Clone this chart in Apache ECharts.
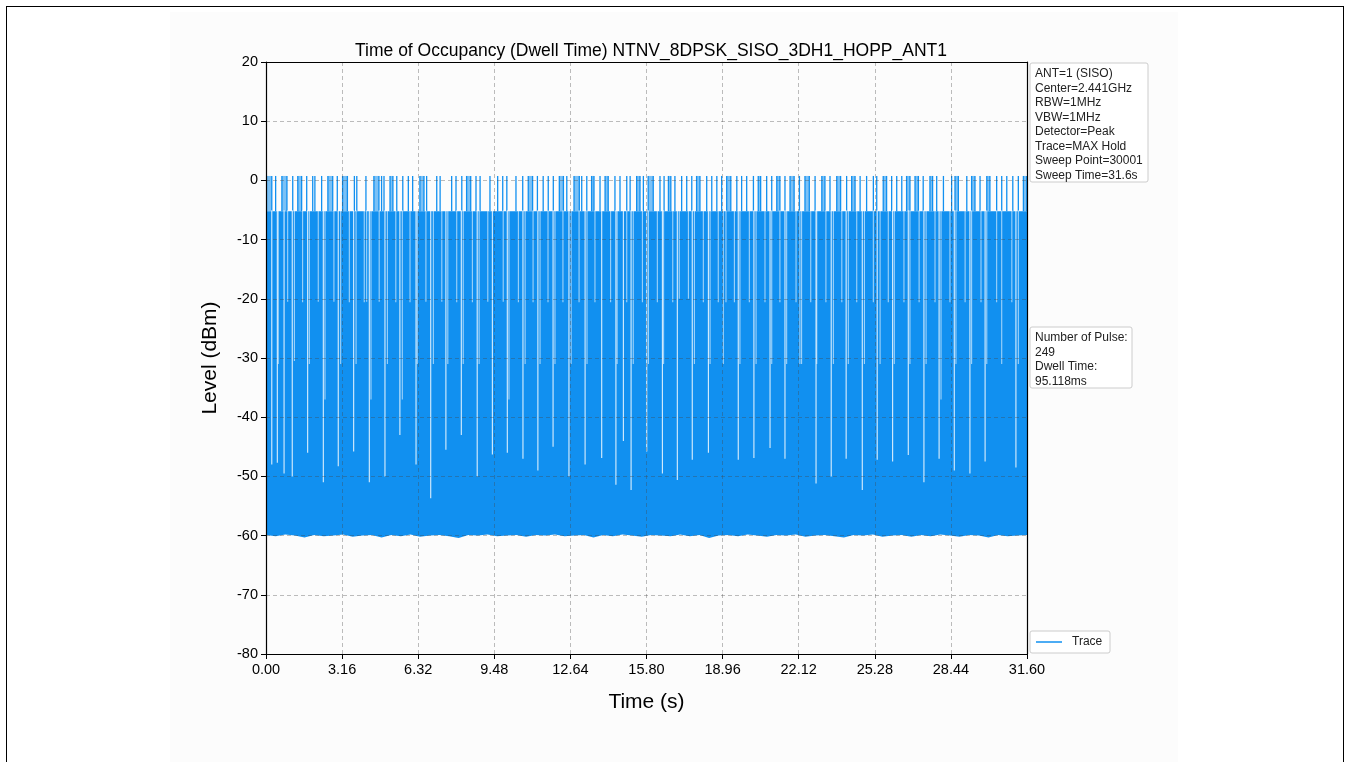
<!DOCTYPE html>
<html>
<head>
<meta charset="utf-8">
<script src="https://cdn.jsdelivr.net/npm/echarts@6/dist/echarts.min.js"></script>
<style>
html,body{margin:0;padding:0;background:#fff;}
#frame{position:absolute;left:6px;top:6px;width:1338px;height:760px;border:1px solid #000;box-sizing:border-box;}
#chart{position:absolute;left:0;top:0;width:1349px;height:762px;}
</style>
</head>
<body>
<div id="chart"></div>
<div id="frame"></div>
<script>
// ---- data ----
const titleText = 'Time of Occupancy (Dwell Time) NTNV_8DPSK_SISO_3DH1_HOPP_ANT1';
const xTicks = [0, 3.16, 6.32, 9.48, 12.64, 15.80, 18.96, 22.12, 25.28, 28.44, 31.60];
const yTicks = [-80, -70, -60, -50, -40, -30, -20, -10, 0, 10, 20];
const bandTop = -5.2;      // occupied band upper level (dBm)
const peakTop = 0.75;      // max-hold pulse peak level (dBm)
// noise floor [time s, level dBm]
const floorPts = [
[0,-59.9],[0.4,-60.1],[0.8,-59.8],[1.2,-60.0],[1.6,-60.3],[2.0,-59.9],[2.4,-60.1],[2.8,-60.0],[3.2,-59.8],[3.6,-60.2],
[4.0,-60.0],[4.4,-59.9],[4.8,-60.3],[5.2,-59.9],[5.6,-60.1],[6.0,-59.8],[6.4,-60.2],[6.8,-60.0],[7.2,-59.9],[7.6,-60.1],
[8.0,-60.4],[8.4,-59.9],[8.8,-60.0],[9.2,-59.8],[9.6,-60.1],[10.0,-60.0],[10.4,-59.9],[10.8,-60.2],[11.2,-59.9],[11.6,-60.0],
[12.0,-59.8],[12.4,-60.1],[12.8,-60.0],[13.2,-59.9],[13.6,-60.3],[14.0,-59.9],[14.4,-60.1],[14.8,-59.8],[15.2,-60.0],[15.6,-60.2],
[16.0,-59.9],[16.4,-60.0],[16.8,-60.1],[17.2,-59.8],[17.6,-60.1],[18.0,-59.9],[18.4,-60.4],[18.8,-60.0],[19.2,-59.9],[19.6,-60.1],
[20.0,-59.8],[20.4,-60.0],[20.8,-60.2],[21.2,-59.9],[21.6,-60.0],[22.0,-59.8],[22.4,-60.2],[22.8,-60.0],[23.2,-59.9],[23.6,-60.1],
[24.0,-60.3],[24.4,-59.9],[24.8,-60.0],[25.2,-59.8],[25.6,-60.2],[26.0,-60.0],[26.4,-59.9],[26.8,-60.2],[27.2,-59.9],[27.6,-60.1],
[28.0,-59.8],[28.4,-60.0],[28.8,-60.2],[29.2,-59.9],[29.6,-60.0],[30.0,-60.3],[30.4,-59.9],[30.8,-60.1],[31.2,-60.0],[31.6,-59.9]
];
// pulse peaks reaching the max level: [start s, end s]
const peakSpans = [
[0.02,0.24],[0.40,0.40],[0.66,0.87],[1.11,1.11],[1.32,1.48],[1.69,1.69],[1.94,1.94],[2.03,2.03],[2.31,2.31],[2.57,2.77],
[2.96,2.96],[3.18,3.38],[3.67,3.67],[3.77,3.77],[4.15,4.15],[4.48,4.69],[4.80,4.80],[4.90,4.90],[5.15,5.27],[5.43,5.43],
[5.68,5.68],[5.91,5.91],[6.09,6.09],[6.39,6.56],[6.67,6.67],[7.09,7.09],[7.23,7.23],[7.71,7.71],[7.89,7.89],[8.13,8.13],
[8.33,8.50],[8.72,8.72],[8.89,8.89],[9.30,9.30],[9.62,9.62],[9.83,9.83],[10.00,10.00],[10.38,10.38],[10.66,10.66],[10.89,11.07],
[11.27,11.27],[11.51,11.51],[11.72,11.72],[11.93,11.93],[12.18,12.35],[12.49,12.49],[12.79,13.01],[13.11,13.11],[13.32,13.32],[13.52,13.62],
[13.87,13.87],[14.08,14.21],[14.49,14.49],[14.70,14.70],[14.98,14.98],[15.12,15.12],[15.39,15.53],[15.67,15.67],[15.87,16.08],[16.36,16.36],
[16.53,16.53],[16.71,16.81],[16.98,16.98],[17.26,17.26],[17.47,17.47],[17.68,17.68],[17.88,18.02],[18.30,18.30],[18.51,18.51],[18.72,18.72],
[18.92,18.92],[19.13,19.30],[19.55,19.55],[19.75,19.75],[19.96,19.96],[20.24,20.24],[20.44,20.54],[20.79,20.79],[21.00,21.00],[21.21,21.34],
[21.55,21.55],[21.76,21.93],[22.15,22.15],[22.38,22.56],[22.80,22.80],[23.08,23.21],[23.42,23.42],[23.70,23.86],[24.11,24.11],[24.32,24.46],
[24.67,24.67],[24.94,24.94],[25.22,25.22],[25.36,25.36],[25.63,25.77],[25.98,25.98],[26.19,26.19],[26.40,26.40],[26.60,26.74],[26.95,27.09],
[27.29,27.29],[27.57,27.68],[27.85,27.85],[28.13,28.13],[28.47,28.47],[28.61,28.75],[29.10,29.10],[29.30,29.44],[29.65,29.65],[29.93,30.06],
[30.34,30.34],[30.55,30.55],[30.76,30.76],[31.01,31.01],[31.24,31.24],[31.45,31.59]
];
// gaps between pulses: [time s, lowest level reached by the trace top dBm]
const gapDips = [
[0.24,-48],[0.47,-47.7],[0.51,-31],[0.75,-49.5],[0.90,-20.5],[1.09,-50],[1.18,-30.5],[1.52,-20.6],[1.73,-46],[1.80,-31],
[2.17,-20.5],[2.38,-51],[2.45,-37],[2.82,-20.5],[3.00,-48.3],[3.10,-31],[3.46,-20.6],[3.64,-45.8],[3.74,-31],[4.08,-20.6],
[4.18,-20.5],[4.29,-51],[4.36,-37],[4.70,-20.5],[4.94,-50],[5.04,-31],[5.39,-20.6],[5.56,-43],[5.66,-37],[5.98,-20.6],
[6.23,-48],[6.28,-31],[6.64,-20.5],[6.84,-53.7],[6.95,-31],[7.30,-20.5],[7.47,-45.5],[7.55,-31],[7.92,-20.6],[8.11,-43],
[8.19,-31],[8.57,-20.6],[8.77,-50],[8.85,-31],[9.21,-20.5],[9.40,-46.3],[9.85,-20.5],[10.02,-46],[10.09,-37],[10.48,-20.6],
[10.67,-47],[10.76,-31],[11.09,-20.6],[11.29,-49],[11.38,-31],[11.71,-20.6],[11.92,-45],[12.00,-31],[12.33,-20.6],[12.58,-50],
[12.67,-31],[13.00,-20.6],[13.25,-48],[13.33,-31],[13.66,-20.6],[13.94,-46.9],[14.31,-20.6],[14.53,-51.4],[14.58,-31],[14.84,-44],
[14.98,-20.6],[15.16,-52.3],[15.25,-31],[15.63,-20.6],[15.81,-45.8],[15.88,-31],[16.25,-20.6],[16.46,-49.5],[16.51,-31],[16.89,-20.6],
[17.08,-50.6],[17.16,-20],[17.54,-20],[17.70,-47.2],[17.79,-31],[18.16,-20.6],[18.37,-46],[18.44,-31],[18.78,-20.6],[18.99,-31],
[19.10,-20.6],[19.45,-20.6],[19.61,-47.2],[19.68,-31],[20.07,-20.6],[20.26,-46.9],[20.35,-31],[20.72,-20.6],[20.93,-45.2],[21.00,-31],
[21.34,-20.6],[21.55,-47],[21.62,-31],[22.01,-20.6],[22.17,-31],[22.24,-31],[22.62,-20.6],[22.84,-51.2],[22.87,-31],[23.25,-20.6],
[23.47,-50],[23.56,-31],[23.91,-20.6],[24.09,-47],[24.18,-31],[24.53,-20.6],[24.76,-52.3],[24.85,-31],[25.22,-20.6],[25.38,-47.2],
[25.50,-31],[25.84,-20.6],[26.02,-47.5],[26.09,-31],[26.49,-20.6],[26.67,-46.4],[26.74,-31],[27.12,-20.6],[27.32,-51],[27.41,-31],
[27.78,-20.6],[27.95,-47],[28.03,-37],[28.40,-20.6],[28.58,-49],[28.65,-31],[29.03,-20.6],[29.23,-49.5],[29.30,-31],[29.69,-20.6],
[29.86,-47.5],[29.93,-31],[30.34,-20.6],[30.55,-31],[30.97,-20.6],[31.14,-48.5],[31.24,-31]
];
const infoLines1 = ['ANT=1 (SISO)', 'Center=2.441GHz', 'RBW=1MHz', 'VBW=1MHz', 'Detector=Peak', 'Trace=MAX Hold', 'Sweep Point=30001', 'Sweep Time=31.6s'];
const infoLines2 = ['Number of Pulse:', '249', 'Dwell Time:', '95.118ms'];
const legendName = 'Trace';

// ---- chart ----
const FONT = '"Liberation Sans", Arial, sans-serif';
const BLUE = '#1190f0';
const chart = echarts.init(document.getElementById('chart'), null, {renderer: 'canvas'});
const gridLine = {show: true, lineStyle: {color: 'rgba(70,70,70,0.45)', type: [4, 3], width: 0.8}};

const axisCommon = {
  z: 10,
  axisLine: {show: true, onZero: false, lineStyle: {color: '#000', width: 1.2}},
  axisTick: {show: true, inside: false, length: 5, lineStyle: {color: '#000', width: 1}},
  axisLabel: {color: '#000', fontSize: 14.5, fontFamily: FONT},
  nameTextStyle: {color: '#000', fontSize: 21, fontFamily: FONT}
};

function infoBox(x, y, w, h, lines, lh) {
  const children = [{type: 'rect', shape: {x: 0, y: 0, width: w, height: h, r: 2},
    style: {fill: '#fff', stroke: '#cccccc', lineWidth: 1}}];
  lines.forEach((s, i) => children.push({type: 'text', x: 5, y: 5 + i * lh,
    style: {text: s, fill: '#222', font: '12px ' + FONT, textVerticalAlign: 'top'}}));
  return {type: 'group', x: x, y: y, children: children};
}

const option = {
  animation: false,
  backgroundColor: '#fff',
  title: {text: titleText, left: 646, textAlign: 'center', top: 37,
    textStyle: {fontSize: 17.5, fontWeight: 'normal', color: '#000', fontFamily: FONT}},
  grid: {left: 266, top: 62, width: 761, height: 592},
  xAxis: [
    Object.assign({}, axisCommon, {type: 'value', min: 0, max: 31.6, interval: 3.16,
      name: 'Time (s)', nameLocation: 'middle', nameGap: 38,
      axisLabel: Object.assign({}, axisCommon.axisLabel, {margin: 8, showMaxLabel: true,
        formatter: v => { const m = xTicks.find(t => Math.abs(t - v) < 1e-6); return (m !== undefined ? m : v).toFixed(2); }}),
      splitLine: gridLine}),
    Object.assign({}, axisCommon, {type: 'value', min: 0, max: 31.6, position: 'top',
      axisTick: {show: false}, axisLabel: {show: false}, splitLine: {show: false}})
  ],
  yAxis: [
    Object.assign({}, axisCommon, {type: 'value', min: yTicks[0], max: yTicks[yTicks.length - 1], interval: 10,
      name: 'Level (dBm)', nameLocation: 'middle', nameGap: 45,
      axisLabel: Object.assign({}, axisCommon.axisLabel, {margin: 8}),
      splitLine: gridLine}),
    Object.assign({}, axisCommon, {type: 'value', min: -80, max: 20, position: 'right',
      axisTick: {show: false}, axisLabel: {show: false}, splitLine: {show: false}})
  ],
  series: [
    {
      name: legendName, type: 'custom', z: 2, clip: true,
      data: [0],
      renderItem: (params, api) => {
        const pts = [api.coord([floorPts[0][0], bandTop]), api.coord([floorPts[floorPts.length - 1][0], bandTop])];
        for (let i = floorPts.length - 1; i >= 0; i--) pts.push(api.coord(floorPts[i]));
        return {type: 'polygon', shape: {points: pts}, style: {fill: BLUE}};
      }
    },
    {
      type: 'custom', z: 3, clip: true,
      data: peakSpans,
      renderItem: (params, api) => {
        const a = api.coord([api.value(0), bandTop]);
        const b = api.coord([api.value(1), peakTop]);
        const children = [];
        if (b[0] - a[0] > 1) {
          children.push({type: 'rect', shape: {x: a[0], y: b[1], width: b[0] - a[0], height: a[1] - b[1]},
            style: {fill: 'rgba(17,144,240,0.55)'}});
          children.push({type: 'line', shape: {x1: b[0], y1: b[1], x2: b[0], y2: a[1]}, style: {stroke: BLUE, lineWidth: 1.3}});
        }
        children.push({type: 'line', shape: {x1: a[0], y1: b[1], x2: a[0], y2: a[1]}, style: {stroke: BLUE, lineWidth: 1.3}});
        return {type: 'group', children: children};
      }
    },
    {
      type: 'custom', z: 4, clip: true,
      data: gapDips,
      renderItem: (params, api) => {
        const a = api.coord([api.value(0), bandTop]);
        const b = api.coord([api.value(0), api.value(1)]);
        const deep = api.value(1) < -40;
        return {type: 'line', shape: {x1: a[0], y1: a[1] - 1, x2: b[0], y2: b[1]},
          style: {stroke: deep ? 'rgba(255,255,255,0.85)' : 'rgba(255,255,255,0.6)', lineWidth: 1.1}};
      }
    }
  ],
  graphic: [
    {type: 'rect', z: -10, shape: {x: 170, y: 12, width: 1008, height: 750}, style: {fill: '#fcfcfc'}},
    infoBox(1030, 63, 118, 119, infoLines1, 14.5),
    infoBox(1030, 327, 102, 61, infoLines2, 14.5),
    {type: 'group', x: 1030, y: 631, children: [
      {type: 'rect', shape: {x: 0, y: 0, width: 80, height: 22, r: 2}, style: {fill: '#fff', stroke: '#cccccc', lineWidth: 1}},
      {type: 'line', shape: {x1: 6, y1: 11, x2: 32, y2: 11}, style: {stroke: BLUE, lineWidth: 1.5}},
      {type: 'text', x: 42, y: 11, style: {text: legendName, fill: '#222', font: '12px ' + FONT, textVerticalAlign: 'middle'}}
    ]}
  ]
};
chart.setOption(option);
</script>
</body>
</html>
